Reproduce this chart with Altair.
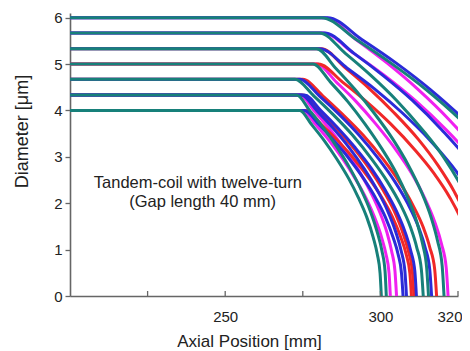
import altair as alt
import pandas as pd

# ---- data (x: axial position mm, y: diameter um) ----
# each curve: flat start at x=200, knee, then the falling arc
Y_400 = [4.0, 4.0, 3.69, 3.35, 2.97, 2.53, 2.12, 1.70, 1.26, 0.90, 0.49, 0.0]
X_400_TEAL = [200, 274.0, 277.9, 281.9, 285.8, 289.8, 292.9, 295.6, 297.7, 299.0, 299.9, 300.3]
X_400_MAG = [200, 275.0, 279.2, 283.5, 287.7, 291.9, 295.3, 298.1, 300.4, 301.8, 302.8, 303.2]
X_400_BLUE = [200, 275.5, 280.3, 285.0, 289.8, 294.6, 298.4, 301.6, 304.1, 305.7, 306.8, 307.3]
X_400_RED = [200, 276.0, 281.1, 286.2, 291.3, 296.4, 300.5, 303.9, 306.6, 308.3, 309.5, 310.0]

Y_433 = [4.33, 4.33, 3.99, 3.62, 3.21, 2.74, 2.29, 1.84, 1.37, 0.97, 0.53, 0.0]
X_433_TEAL = [200, 273.0, 277.3, 281.7, 286.0, 290.3, 293.8, 296.7, 299.0, 300.5, 301.5, 301.9]
X_433_MAG = [200, 274.0, 278.7, 283.4, 288.0, 292.7, 296.5, 299.6, 302.1, 303.6, 304.7, 305.2]
X_433_BLUE = [200, 274.5, 279.6, 284.7, 289.8, 294.8, 298.9, 302.3, 305.0, 306.7, 307.9, 308.4]
X_433_RED = [200, 275.0, 280.4, 285.7, 291.1, 296.5, 300.8, 304.4, 307.2, 309.0, 310.3, 310.8]
X_433_BLUE2 = [200, 275.5, 280.9, 286.3, 291.7, 297.2, 301.5, 305.1, 308.0, 309.8, 311.1, 311.6]

Y_467 = [4.67, 4.67, 4.31, 3.91, 3.47, 2.95, 2.47, 1.98, 1.48, 1.05, 0.57, 0.0]
X_467_TEAL = [200, 272.4, 278.6, 284.8, 291.0, 297.2, 302.2, 306.4, 309.7, 311.7, 313.2, 313.8]
X_467_BLUE = [200, 274.0, 280.4, 286.8, 293.1, 299.5, 304.6, 308.9, 312.3, 314.4, 315.9, 316.5]
X_467_RED = [200, 275.0, 281.5, 287.9, 294.4, 300.9, 306.0, 310.3, 313.8, 315.9, 317.5, 318.1]

Y_500 = [5.0, 5.0, 4.61, 4.19, 3.71, 3.16, 2.65, 2.12, 1.58, 1.12, 0.61, 0.0]
X_500_TEAL = [200, 278.3, 283.9, 289.5, 295.0, 300.6, 305.1, 308.8, 311.8, 313.6, 314.9, 315.5]
X_500_MAG = [200, 279.5, 285.8, 292.2, 298.5, 304.9, 310.0, 314.2, 317.6, 319.7, 321.2, 321.8]
X_500_RED = [200, 280.0, 287.8, 295.5, 303.3, 311.0, 317.2, 322.4, 326.5, 329.1, 330.9, 331.7]

Y_533 = [5.33, 5.33, 4.91, 4.46, 3.95, 3.37, 2.82, 2.26, 1.68, 1.19, 0.65, 0.0]
X_533_TEAL = [200, 279.4, 285.6, 291.7, 297.9, 304.1, 309.0, 313.1, 316.4, 318.4, 319.9, 320.5]
X_533_BLUE = [200, 280.5, 289.3, 298.2, 307.0, 315.8, 322.9, 328.8, 333.5, 336.5, 338.5, 339.4]
X_533_RED = [200, 281.0, 288.8, 296.6, 304.4, 312.3, 318.5, 323.7, 327.9, 330.5, 332.3, 333.1]

Y_567 = [5.67, 5.67, 5.23, 4.75, 4.21, 3.58, 3.00, 2.40, 1.79, 1.27, 0.69, 0.0]
X_567_TEAL = [200, 280.4, 288.7, 297.0, 305.3, 313.6, 320.3, 325.8, 330.3, 333.0, 335.0, 335.8]
X_567_MAG = [200, 281.5, 291.4, 301.4, 311.3, 321.2, 329.2, 335.8, 341.1, 344.4, 346.7, 347.7]
X_567_BLUE = [200, 282.0, 291.5, 300.9, 310.4, 319.8, 327.4, 333.7, 338.7, 341.9, 344.1, 345.0]

Y_600 = [6.0, 6.0, 5.53, 5.02, 4.45, 3.79, 3.17, 2.54, 1.90, 1.34, 0.73, 0.0]
X_600_TEAL = [200, 281.0, 292.2, 303.4, 314.7, 325.9, 334.9, 342.3, 348.3, 352.1, 354.7, 355.8]
X_600_MAG = [200, 282.0, 292.1, 302.2, 312.2, 322.3, 330.4, 337.1, 342.5, 345.8, 348.2, 349.2]
X_600_BLUE = [200, 283.0, 294.0, 305.1, 316.1, 327.1, 335.9, 343.3, 349.2, 352.8, 355.4, 356.5]

CURVES = [
    ("4.00-teal", "teal", X_400_TEAL, Y_400), ("4.00-mag", "magenta", X_400_MAG, Y_400),
    ("4.00-blue", "blue", X_400_BLUE, Y_400), ("4.00-red", "red", X_400_RED, Y_400),
    ("4.33-teal", "teal", X_433_TEAL, Y_433), ("4.33-mag", "magenta", X_433_MAG, Y_433),
    ("4.33-blue", "blue", X_433_BLUE, Y_433), ("4.33-red", "red", X_433_RED, Y_433),
    ("4.33-blue2", "blue", X_433_BLUE2, Y_433),
    ("4.67-teal", "teal", X_467_TEAL, Y_467), ("4.67-blue", "blue", X_467_BLUE, Y_467),
    ("4.67-red", "red", X_467_RED, Y_467),
    ("5.00-teal", "teal", X_500_TEAL, Y_500), ("5.00-mag", "magenta", X_500_MAG, Y_500),
    ("5.00-red", "red", X_500_RED, Y_500),
    ("5.33-teal", "teal", X_533_TEAL, Y_533), ("5.33-blue", "blue", X_533_BLUE, Y_533),
    ("5.33-red", "red", X_533_RED, Y_533),
    ("5.67-teal", "teal", X_567_TEAL, Y_567), ("5.67-mag", "magenta", X_567_MAG, Y_567),
    ("5.67-blue", "blue", X_567_BLUE, Y_567),
    ("6.00-teal", "teal", X_600_TEAL, Y_600), ("6.00-mag", "magenta", X_600_MAG, Y_600),
    ("6.00-blue", "blue", X_600_BLUE, Y_600),
]

COLORS = {"magenta": "#f020f0", "red": "#f02828", "blue": "#2b2bd8", "teal": "#17807a"}
DRAW_ORDER = ["magenta", "red", "blue", "teal"]

X_TICKS = [225, 250, 275, 300, 325]
X_LABELS = [250, 300, 325]
Y_TICKS = [0, 0.5, 1, 1.5, 2, 2.5, 3, 3.5, 4, 4.5, 5, 5.5, 6]

NOTE_TEXT = ["Tandem-coil with twelve-turn", "(Gap length 40 mm)"]
NOTE_X = [241.2, 242.7]
NOTE_Y = [2.43, 2.02]

rows = []
for cid, col, xs, ys in CURVES:
    for i, (xv, yv) in enumerate(zip(xs, ys)):
        rows.append({"curve": cid, "color": col, "i": i, "x": xv, "y": yv})
df = pd.DataFrame(rows)

W, H = 388, 283
FONT = "Liberation Sans"

x_enc = alt.X(
    "x:Q",
    scale=alt.Scale(domain=[200, 325], nice=False, zero=False),
    axis=alt.Axis(
        values=X_LABELS,
        labelExpr="datum.value == 325 ? '320' : datum.label",
        ticks=False, grid=False, labelFlush=True, labelFlushOffset=4, labelPadding=13,
        labelFontSize=15, labelFont=FONT, labelColor="#222",
        domainColor="#666", domainWidth=1.6,
        title="Axial Position [mm]", titleFont=FONT, titleFontSize=17,
        titleFontWeight="normal", titleColor="#222",
        titleX=179, titleY=50, titleAlign="center", titleBaseline="alphabetic", titleAngle=0,
    ),
)
y_enc = alt.Y(
    "y:Q",
    scale=alt.Scale(domain=[0, 6.1], nice=False, zero=True),
    axis=alt.Axis(
        values=Y_TICKS,
        labelExpr="datum.value % 1 == 0 ? datum.label : ''",
        tickSize=5, tickColor="#666", tickWidth=1.3, grid=False, labelPadding=3,
        labelFontSize=15, labelFont=FONT, labelColor="#222",
        domainColor="#666", domainWidth=1.6,
        title="Diameter [μm]", titleFont=FONT, titleFontSize=18,
        titleFontWeight="normal", titleColor="#222",
        titleX=-48, titleY=118, titleAlign="center", titleBaseline="middle", titleAngle=270,
    ),
)

layers = []
for col in DRAW_ORDER:
    layers.append(
        alt.Chart(df)
        .transform_filter(alt.datum.color == col)
        .mark_line(clip=True, strokeWidth=3, interpolate="monotone", color=COLORS[col])
        .encode(x=x_enc, y=y_enc, detail="curve:N", order="i:Q")
    )

ticks = (
    alt.Chart(pd.DataFrame({"x": X_TICKS}))
    .mark_rule(color="#666", strokeWidth=1.3)
    .encode(x="x:Q", y=alt.value(H), y2=alt.value(H - 5))
)

notes = (
    alt.Chart(pd.DataFrame({"x": NOTE_X, "y": NOTE_Y, "t": NOTE_TEXT}))
    .mark_text(font=FONT, fontSize=16.5, color="#222", align="center", baseline="middle")
    .encode(x="x:Q", y="y:Q", text="t:N")
)

chart = (
    alt.layer(*layers, ticks, notes)
    .properties(
        width=W, height=H,
        autosize=alt.AutoSizeParams(type="none"),
        padding={"left": 62, "top": 5, "right": 4, "bottom": 55},
        background="white",
    )
    .configure_view(stroke=None)
)

chart.save("out.html", embed_options={"renderer": "svg", "actions": False})
